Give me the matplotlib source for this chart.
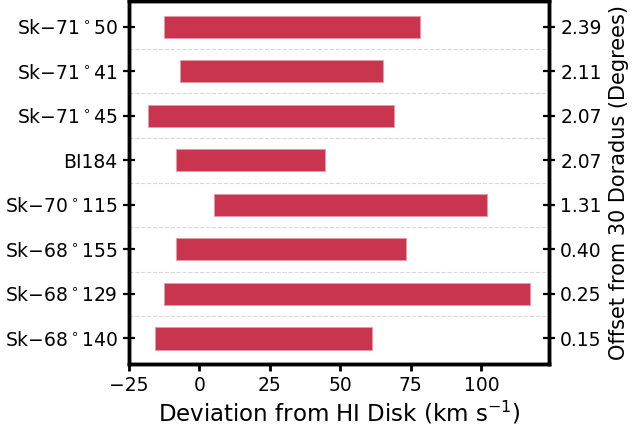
import matplotlib
matplotlib.use("Agg")
import matplotlib.pyplot as plt
import numpy as np

stars = [r"Sk$-$68$^\circ$140", r"Sk$-$68$^\circ$129", r"Sk$-$68$^\circ$155",
         r"Sk$-$70$^\circ$115", "BI184", r"Sk$-$71$^\circ$45",
         r"Sk$-$71$^\circ$41", r"Sk$-$71$^\circ$50"]
offsets = ["0.15", "0.25", "0.40", "1.31", "2.07", "2.07", "2.11", "2.39"]
vmin = [-15.7, -12.6, -8.4, 5.2, -8.3, -18.1, -6.9, -12.5]
vmax = [61.4, 117.4, 73.3, 101.9, 44.7, 69.0, 65.0, 78.1]

plt.rcParams['font.family'] = ['DejaVu Sans']
fig = plt.figure(figsize=(6.34, 4.28), dpi=100)
ax = fig.add_axes([0.203, 0.149, 0.663, 0.849])

y = np.arange(len(stars))
widths = np.array(vmax) - np.array(vmin)
ax.barh(y, widths, left=vmin, height=0.5, color='#C9344F',
        edgecolor='#E39AA7', linewidth=0.6, zorder=3)

ax.set_xlim(-25, 124)
ax.set_ylim(-0.58, 7.58)
ax.set_yticks(y)
ax.set_yticklabels(stars, fontsize=13.5)
ax.set_xticks([-25, 0, 25, 50, 75, 100])
ax.tick_params(axis='x', labelsize=13.5, direction='out', length=5, width=2)
ax.tick_params(axis='y', direction='inout', length=9, width=1.6)
ax.set_xlabel(r"Deviation from HI Disk (km s$^{-1}$)", fontsize=16.5, labelpad=3)

ax.set_yticks(y[:-1] + 0.5, minor=True)
ax.tick_params(axis='y', which='minor', length=0)
ax.grid(axis='y', which='minor', linestyle='--', color='#D8D8D8', linewidth=0.8, zorder=0)

ax2 = ax.twinx()
ax2.set_ylim(ax.get_ylim())
ax2.set_yticks(y)
ax2.set_yticklabels(offsets, fontsize=13.5)
ax2.tick_params(axis='y', direction='inout', length=9, width=1.6)
ax2.set_ylabel("Offset from 30 Doradus (Degrees)", fontsize=15, labelpad=5)

for a in (ax, ax2):
    for s in a.spines.values():
        s.set_linewidth(2.5)
        s.set_color('black')

fig.savefig("out.png", dpi=100)
